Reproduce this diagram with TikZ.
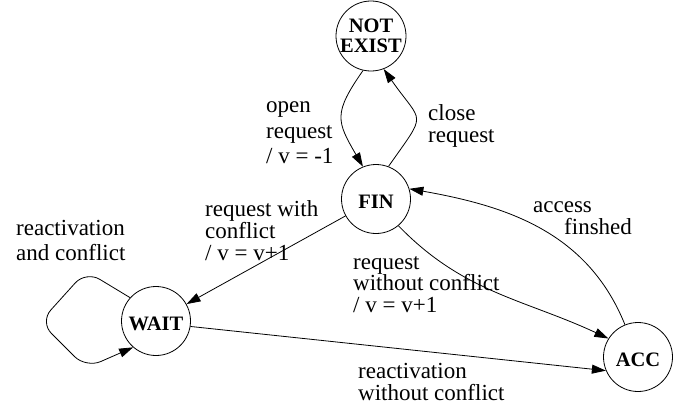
\documentclass[tikz,border=0pt]{standalone}
\usepackage{fontspec}
\setmainfont{Liberation Serif}
\usetikzlibrary{arrows.meta}
\begin{document}
\begin{tikzpicture}[x=1pt,y=-1pt,
  state/.style={circle,draw,line width=0.8pt,minimum size=69pt,inner sep=0pt,
    font=\fontsize{20.5}{20}\selectfont\bfseries,align=center},
  low/.style={text height=19pt,text depth=0pt},
  arr/.style={line width=0.8pt,-{Triangle[length=14pt,width=9pt]}},
  lbl/.style={inner sep=0pt,anchor=base west,align=left},
  lblA/.style={lbl,font=\fontsize{23}{25.5}\selectfont},
  lblB/.style={lbl,font=\fontsize{23}{21.7}\selectfont}]
\useasboundingbox (0,0) rectangle (694,410);
\node[state] (ne) at (371,36) {NOT\\EXIST};
\node[state,low] (fin) at (376,199) {FIN};
\node[state,low] (wait) at (156,321) {WAIT};
\node[state,low] (acc) at (638,357) {ACC};

\draw[arr] (ne.-103) to[out=-125,in=120,looseness=1.4] (fin.112);
\draw[arr] (fin.69) to[out=55,in=-55,looseness=1.8] (ne.-69);
\draw[arr] (fin) -- (wait);
\draw[arr,rounded corners=16pt] (wait.138) -- (86,271) -- (40,322) -- (86,368) -- (wait.229);
\draw[arr] (wait.-9) -- (acc.203);
\draw[arr] (fin.-50) to[out=-46,in=155] (acc.148);
\draw[arr] (acc.112) to[out=112,in=-10] (fin.17);

\node[lblA] (l1) at (266,163.5) {open\\request\\/ v = -1};
\node[lblB] (l2) at (428,142.5) {close\\request};
\node[lblB] (l3) at (205,260) {request with\\conflict\\/ v = v+1};
\node[lblA] (l4) at (16,260.5) {reactivation\\and conflict};
\node[lblB] (l5) at (353,312.5) {request\\without conflict\\/ v = v+1};
\node[lblB] (l6) at (533,234) {access\\\hspace*{31pt}finshed};
\node[lblB] (l7) at (358,400) {reactivation\\without conflict};
\end{tikzpicture}
\end{document}
